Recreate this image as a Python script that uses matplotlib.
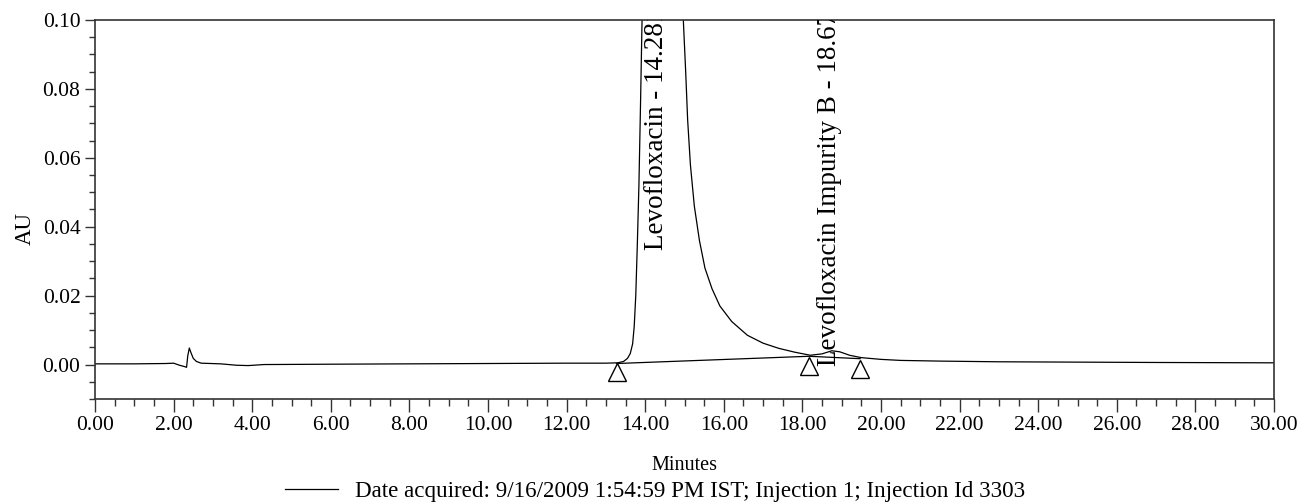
import matplotlib
matplotlib.use("Agg")
import matplotlib.pyplot as plt
from matplotlib.ticker import MultipleLocator, FormatStrFormatter
from matplotlib.lines import Line2D

plt.rcParams['font.family'] = ['Liberation Serif', 'DejaVu Serif']

# chromatogram trace (minutes, AU)
minutes = [0.0, 1.0, 1.8, 2.0, 2.15, 2.28, 2.33, 2.36, 2.40, 2.44, 2.50, 2.58, 2.70,
           3.2, 3.6, 3.9, 4.3, 6.0, 8.0, 10.0, 12.0, 13.0, 13.3, 13.45, 13.55, 13.62,
           13.68, 13.72, 13.76, 13.80, 13.84, 13.88, 13.92, 14.0, 14.1, 14.28, 14.5,
           14.7, 14.85, 14.97, 15.03, 15.08, 15.15, 15.25, 15.38, 15.52, 15.7, 15.9,
           16.2, 16.6, 17.0, 17.4, 17.8, 18.2, 18.5, 18.75, 18.95, 19.2, 19.5, 20.0,
           20.5, 21.5, 23.0, 25.0, 27.0, 30.0]
au = [0.0002, 0.0002, 0.0003, 0.0004, -0.0002, -0.0006, -0.0008, 0.0025, 0.0048,
      0.0035, 0.0018, 0.0009, 0.0004, 0.0002, -0.0002, -0.0003, 0.0, 0.0001, 0.0002,
      0.0003, 0.0004, 0.0004, 0.0005, 0.0009, 0.0018, 0.0032, 0.006, 0.011, 0.02,
      0.035, 0.052, 0.075, 0.100, 0.16, 0.28, 0.42, 0.33, 0.20, 0.13, 0.100, 0.085,
      0.071, 0.058, 0.046, 0.036, 0.028, 0.022, 0.017, 0.0125, 0.0085, 0.0062,
      0.0047, 0.0036, 0.0027, 0.0031, 0.0040, 0.0037, 0.0027, 0.0020, 0.0015,
      0.0012, 0.0010, 0.0008, 0.0007, 0.0006, 0.0005]

# integration baseline and peak start/end markers
baseline_t = [13.27, 18.17, 19.47]
baseline_au = [0.0003, 0.0024, 0.0017]
marker_t = [13.27, 18.17, 19.47]
marker_au = [-0.0023, -0.0005, -0.0012]

peak_names = ["Levofloxacin - 14.281", "Levofloxacin Impurity B - 18.675"]
peak_t = [14.30, 18.70]
peak_label_au = [0.0333, -0.0004]

legend_text = "Date acquired: 9/16/2009 1:54:59 PM IST; Injection 1; Injection Id 3303"

fig = plt.figure(figsize=(13.04, 5.04), dpi=100)
fig.subplots_adjust(left=95/1304, right=1274/1304, top=1-20/504, bottom=1-399/504)
ax = fig.add_subplot(1, 1, 1)

ax.plot(minutes, au, color='black', lw=0.9)
ax.plot(baseline_t, baseline_au, color='black', lw=0.9)
ax.plot(marker_t, marker_au, linestyle='none', marker='^', ms=13,
        markerfacecolor='white', markeredgecolor='black', mew=1.0)

for name, t, y in zip(peak_names, peak_t, peak_label_au):
    ax.text(t, y, name, rotation=90, ha='center', va='bottom', fontsize=19.5,
            clip_on=True)

ax.set_xlim(0, 30)
ax.set_ylim(-0.01, 0.10)
ax.xaxis.set_major_locator(MultipleLocator(2))
ax.xaxis.set_minor_locator(MultipleLocator(0.5))
ax.yaxis.set_major_locator(MultipleLocator(0.02))
ax.yaxis.set_minor_locator(MultipleLocator(0.005))
ax.xaxis.set_major_formatter(FormatStrFormatter('%.2f'))
ax.yaxis.set_major_formatter(FormatStrFormatter('%.2f'))
ax.tick_params(which='major', length=9, width=1, labelsize=15.5, color='#333333')
ax.tick_params(which='minor', length=5, width=1, color='#333333')
ax.tick_params(axis='y', which='major', length=7)
ax.tick_params(axis='y', which='minor', length=4)
for s in ax.spines.values():
    s.set_color('#333333')
    s.set_linewidth(1.2)

ax.set_xlabel("Minutes", fontsize=14.5)
ax.set_ylabel("AU", fontsize=16.5)
ax.xaxis.set_label_coords(0.5, -0.15)
ax.yaxis.set_label_coords(-0.05, 0.45)

handle = Line2D([], [], color='black', lw=0.9)
fig.legend([handle], [legend_text], loc='center', bbox_to_anchor=(655/1304, 1-491/504),
           frameon=False, fontsize=16.6, handlelength=2.3, handletextpad=0.7)

fig.savefig("out.png", dpi=100)
